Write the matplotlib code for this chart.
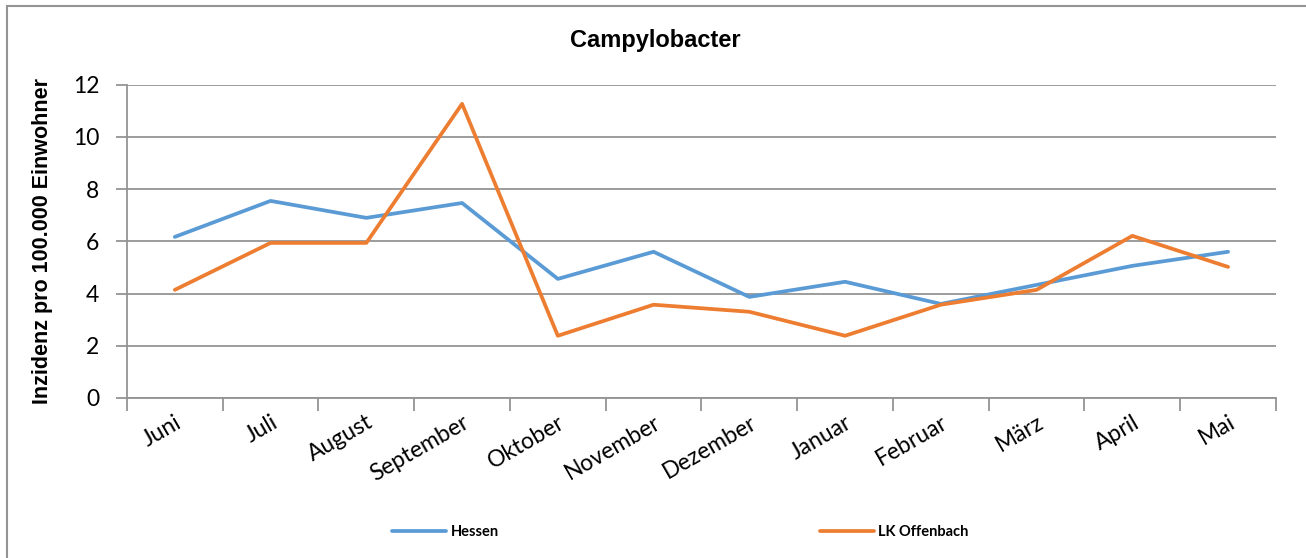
import numpy as np
import matplotlib
matplotlib.use('Agg')
import matplotlib.pyplot as plt
from matplotlib.patches import Rectangle

months = ['Juni', 'Juli', 'August', 'September', 'Oktober', 'November',
          'Dezember', 'Januar', 'Februar', 'März', 'April', 'Mai']
hessen = [6.17, 7.55, 6.90, 7.47, 4.56, 5.60, 3.87, 4.45, 3.60, 4.33, 5.06, 5.60]
offenbach = [4.14, 5.94, 5.94, 11.27, 2.38, 3.57, 3.30, 2.38, 3.57, 4.14, 6.21, 5.02]
yticks = [0, 2, 4, 6, 8, 10, 12]

grey = '#949494'

fig = plt.figure(figsize=(13.06, 5.58), dpi=100)
fig.patches.append(Rectangle((0.005, -0.01), 1.0, 1.0, transform=fig.transFigure,
                             fill=False, edgecolor=grey, linewidth=1.5))
ax = fig.add_axes([0.0972, 0.287, 0.8798, 0.561])

x = np.arange(len(months))
ax.plot(x, hessen, color='#5B9BD5', linewidth=2.7, label='Hessen', solid_capstyle='round')
ax.plot(x, offenbach, color='#ED7D31', linewidth=2.7, label='LK Offenbach', solid_capstyle='round')

ax.set_xlim(-0.5, len(months) - 0.5)
ax.set_ylim(0, 12)
ax.set_yticks(yticks)
ax.set_yticklabels([str(v) for v in yticks], fontfamily='Lato', fontsize=16.5)
ax.yaxis.grid(True, color=grey, linewidth=1.3)
ax.set_axisbelow(True)

ax.set_xticks(np.arange(-0.5, len(months)), minor=False)
ax.set_xticklabels([])
ax.set_xticks(x, minor=True)
ax.set_xticklabels(months, minor=True, rotation=30, ha='right', rotation_mode='anchor',
                   fontfamily='Lato', fontsize=16.5)
ax.tick_params(axis='x', which='minor', length=0, pad=10)
ax.tick_params(axis='x', which='major', length=9, color=grey, width=1.3)
ax.tick_params(axis='y', length=8, color=grey, width=1.3, pad=12)

for side in ['top', 'right']:
    ax.spines[side].set_visible(False)
for side in ['left', 'bottom']:
    ax.spines[side].set_color(grey)
    ax.spines[side].set_linewidth(1.3)

ax.set_ylabel('Inzidenz pro 100.000 Einwohner', fontfamily='Liberation Sans',
              fontweight='bold', fontsize=15.5, labelpad=14)
fig.text(0.502, 0.928, 'Campylobacter', ha='center', va='center',
         fontfamily='Liberation Sans', fontweight='bold', fontsize=17)

fig.legend(loc='center', bbox_to_anchor=(0.521, 0.047), ncol=2, frameon=False,
           columnspacing=22, handlelength=3.7, handletextpad=0.3,
           prop={'family': 'Lato', 'weight': 'bold', 'size': 10.5})

fig.savefig('out.png', dpi=100)
